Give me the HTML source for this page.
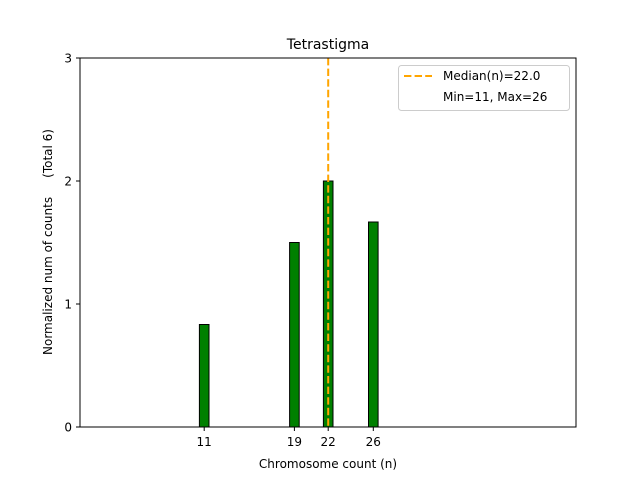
<!DOCTYPE html>
<html><head><meta charset="utf-8"><style>body{margin:0;background:#fff}svg{display:block}text{font-family:"DejaVu Sans","Liberation Sans",sans-serif;white-space:pre}</style></head><body>
<svg width="640" height="480" viewBox="0 0 640 480">
<rect width="640" height="480" fill="#fff"/>
<g fill="#008000" stroke="#000" stroke-width="1">
<rect x="199.4" y="324.5" width="9.6" height="102.5"/>
<rect x="289.6" y="242.5" width="9.6" height="184.5"/>
<rect x="323.4" y="181" width="9.6" height="246"/>
<rect x="368.5" y="222" width="9.6" height="205"/>
</g>
<line x1="328.2" y1="58" x2="328.2" y2="427" stroke="#FFA500" stroke-width="2" stroke-dasharray="7.4,3.2"/>
<rect x="80" y="58" width="496" height="369" fill="none" stroke="#000" stroke-width="1"/>
<g stroke="#000">
<line x1="204.2" y1="427" x2="204.2" y2="431"/><line x1="294.4" y1="427" x2="294.4" y2="431"/><line x1="328.2" y1="427" x2="328.2" y2="431"/><line x1="373.3" y1="427" x2="373.3" y2="431"/>
<line x1="76" y1="427" x2="80" y2="427"/><line x1="76" y1="304" x2="80" y2="304"/><line x1="76" y1="181" x2="80" y2="181"/><line x1="76" y1="58" x2="80" y2="58"/>
</g>
<g font-size="12" fill="#000" text-anchor="middle">
<text x="204.2" y="446">11</text><text x="294.4" y="446">19</text><text x="328.2" y="446">22</text><text x="373.3" y="446">26</text>
<text x="328" y="468">Chromosome count (n)</text>
</g>
<g font-size="12" fill="#000" text-anchor="end">
<text x="72" y="431.5">0</text><text x="72" y="308.5">1</text><text x="72" y="185.5">2</text><text x="72" y="62.5">3</text>
</g>
<text x="328" y="49" font-size="14" text-anchor="middle">Tetrastigma</text>
<text transform="translate(52,242) rotate(-90)" font-size="12" text-anchor="middle" xml:space="preserve">Normalized num of counts     (Total 6)</text>
<rect x="398.5" y="65.5" width="171" height="45" rx="3" fill="#fff" stroke="#ccc"/>
<line x1="404" y1="76" x2="432" y2="76" stroke="#FFA500" stroke-width="2" stroke-dasharray="7.4,3.2"/>
<text x="443" y="80" font-size="12">Median(n)=22.0</text>
<text x="443" y="101" font-size="12">Min=11, Max=26</text>
</svg>
</body></html>
